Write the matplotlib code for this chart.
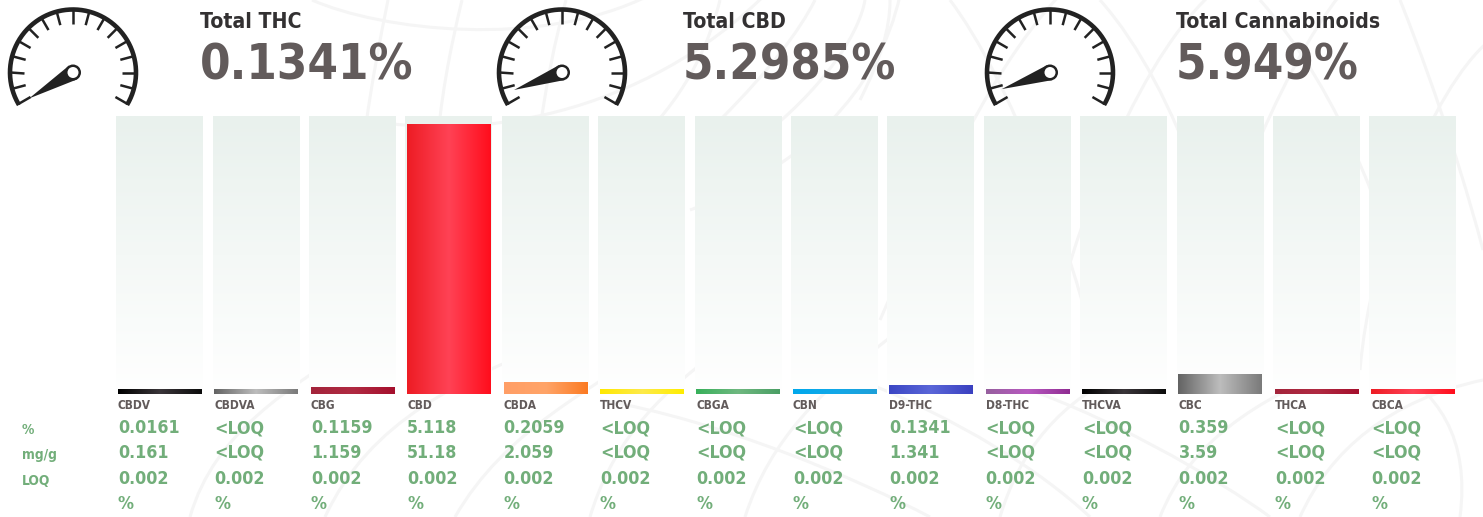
import numpy as np
from matplotlib import pyplot as plt
from matplotlib.colors import LinearSegmentedColormap
from matplotlib.patches import Circle, PathPatch, Polygon
from matplotlib.path import Path

plt.rcParams['font.family'] = 'DejaVu Sans'
plt.rcParams['font.weight'] = 'bold'
plt.rcParams['font.stretch'] = 'condensed'

names = ['CBDV', 'CBDVA', 'CBG', 'CBD', 'CBDA', 'THCV', 'CBGA', 'CBN', 'D9-THC', 'D8-THC',
         'THCVA', 'CBC', 'THCA', 'CBCA']
percent = ['0.0161', '<LOQ', '0.1159', '5.118', '0.2059', '<LOQ', '<LOQ', '<LOQ', '0.1341', '<LOQ',
           '<LOQ', '0.359', '<LOQ', '<LOQ']
mg_per_g = ['0.161', '<LOQ', '1.159', '51.18', '2.059', '<LOQ', '<LOQ', '<LOQ', '1.341', '<LOQ',
            '<LOQ', '3.59', '<LOQ', '<LOQ']
loq = ['0.002'] * 14
unit = ['%'] * 14
# heights as they stand in the picture (small results get a minimum bar)
bar_heights = [0.094, 0.094, 0.132, 5.118, 0.226, 0.094, 0.094, 0.094, 0.17, 0.094,
               0.094, 0.377, 0.094, 0.094]
row_names = ['%', 'mg/g', 'LOQ']

total_names = ['Total THC', 'Total CBD', 'Total Cannabinoids']
total_values = ['0.1341%', '5.2985%', '5.949%']
needle_angles = [30.6, 20, 19]

BLACK = ['#000000', '#3a3539', '#0c0c0c']
GREY = ['#636363', '#bdbdbd', '#7a7a7a']
WINE = ['#a3243b', '#b02a42', '#a50f2d']
RED = ['#ed1c24', '#ff4255', '#ff0d1c']
bar_colors = [BLACK, GREY, WINE, RED, ['#ff9e66', '#ffa468', '#fb7a22'],
              ['#ffe800', '#fdea4a', '#ffed00'], ['#37b05a', '#6fb880', '#4a9e64'],
              ['#00a8ec', '#12a8e8', '#1e9fd8'], ['#3b46c4', '#5a66d8', '#3a40c0'],
              ['#96609e', '#b858c0', '#8f2c92'], BLACK, GREY, WINE, RED]

# faint line drawing behind the chart, control points in pixels
background_curves = [
    [(312, 0), (380, 30), (540, 50), (650, -5)],
    [(368, 120), (470, 140), (640, 120), (770, -10)],
    [(388, 0), (380, 40), (372, 80), (366, 125)],
    [(462, 0), (450, 50), (440, 100), (436, 160)],
    [(540, 130), (545, 90), (555, 40), (566, 0)],
    [(690, 210), (800, 170), (880, 90), (900, -5)],
    [(640, 140), (690, 90), (710, 40), (720, 0)],
    [(860, 100), (880, 60), (890, 30), (890, 0)],
    [(720, 120), (770, 70), (800, 30), (815, 0)],
    [(770, 130), (830, 80), (860, 30), (865, 0)],
    [(190, 517), (215, 430), (290, 390), (360, 340)],
    [(325, 517), (370, 420), (460, 380), (560, 340)],
    [(455, 517), (505, 430), (590, 390), (680, 330)],
    [(590, 517), (610, 450), (650, 400), (720, 350)],
    [(745, 517), (770, 440), (820, 390), (900, 330)],
    [(600, 400), (720, 420), (860, 480), (930, 517)],
    [(860, 380), (960, 420), (1040, 470), (1090, 517)],
    [(1000, 380), (1100, 410), (1220, 480), (1270, 517)],
    [(880, 320), (920, 230), (980, 80), (1060, -5)],
    [(950, 0), (1010, 80), (1070, 240), (1100, 370)],
    [(1040, 390), (1060, 260), (1130, 70), (1210, -5)],
    [(1100, 0), (1180, 90), (1230, 260), (1250, 380)],
    [(1190, 380), (1205, 250), (1280, 70), (1340, -5)],
    [(1260, 0), (1340, 90), (1400, 240), (1420, 370)],
    [(1360, 370), (1370, 250), (1430, 90), (1490, 40)],
    [(1400, 0), (1440, 100), (1470, 200), (1483, 250)],
    [(1460, 517), (1470, 440), (1440, 390), (1380, 360)],
    [(1160, 517), (1190, 440), (1260, 400), (1330, 370)],
    [(1000, 517), (1020, 450), (1060, 400), (1130, 370)],
    [(1300, 517), (1330, 450), (1390, 400), (1483, 380)],
]

TITLE_COLOR = '#333132'
VALUE_COLOR = '#625b5b'
GREEN = '#72ae7a'
GAUGE_COLOR = '#222222'


def draw_gauge(ax, cx, cy, needle_angle):
    """ Arc with 15 degree ticks and a needle
    """
    t = np.radians(np.linspace(-31, 211, 200))
    ax.plot(cx + 63 * np.cos(t), cy - 63 * np.sin(t), color=GAUGE_COLOR, lw=3.3, solid_capstyle='butt')
    for angle in np.arange(-30, 211, 15):
        a = np.radians(angle)
        ax.plot([cx + 49 * np.cos(a), cx + 63 * np.cos(a)], [cy - 49 * np.sin(a), cy - 63 * np.sin(a)],
                color=GAUGE_COLOR, lw=1.8, solid_capstyle='butt')
    a = np.radians(180 + needle_angle)
    tip = (cx + 51 * np.cos(a), cy - 51 * np.sin(a))
    side = a + np.pi / 2
    ax.add_patch(Polygon([tip, (cx + 8 * np.cos(side), cy - 8 * np.sin(side)),
                          (cx - 8 * np.cos(side), cy + 8 * np.sin(side))], color=GAUGE_COLOR, lw=0))
    ax.add_patch(Circle((cx, cy), 8, color=GAUGE_COLOR, lw=0))
    ax.add_patch(Circle((cx, cy), 5.5, color='white', lw=0))


figure = plt.figure(figsize=(14.83, 5.17), dpi=100, facecolor='white')

# Background layer in pixel coordinates
back = figure.add_axes([0, 0, 1, 1])
back.set_xlim(0, 1483)
back.set_ylim(517, 0)
back.axis('off')
for curve in background_curves:
    back.add_patch(PathPatch(Path(curve, [Path.MOVETO, Path.CURVE4, Path.CURVE4, Path.CURVE4]),
                             fill=False, edgecolor='#f5f5f5', lw=2.2))

for cx, cy, angle in zip([73, 562, 1050], [72.5, 72.5, 72.5], needle_angles):
    draw_gauge(back, cx, cy, angle)
for x, name, value in zip([200, 683, 1176], total_names, total_values):
    back.text(x, 28, name, color=TITLE_COLOR, fontsize=15.2, va='baseline')
    back.text(x, 80, value, color=VALUE_COLOR, fontsize=35.2, va='baseline')
for y, name in zip([434, 459, 485], row_names):
    back.text(22, y, name, color=GREEN, fontsize=9.9, va='baseline')

# Bars
axes = figure.add_axes([111.3 / 1483, (517 - 394) / 517, 1349.6 / 1483, 278 / 517])
axes.patch.set_alpha(0)
axes.axis('off')
panel_width = 0.9
bar_width = 0.861
panel_cmap = LinearSegmentedColormap.from_list('panel', ['#e9f1ed', '#f4f8f6', '#ffffff'])
top = 5.27
for i, (height, colors) in enumerate(zip(bar_heights, bar_colors)):
    axes.imshow(np.linspace(0, 1, 256).reshape(-1, 1), cmap=panel_cmap, aspect='auto', origin='upper',
                extent=(i - panel_width / 2, i + panel_width / 2, 0, top), zorder=1)
    cmap = LinearSegmentedColormap.from_list(names[i], colors)
    axes.imshow(np.linspace(0, 1, 256).reshape(1, -1), cmap=cmap, aspect='auto',
                extent=(i - bar_width / 2, i + bar_width / 2, 0, height), zorder=2)
axes.set_xlim(-0.5, 13.5)
axes.set_ylim(0, top)

# Text under the bars, offsets in pixels below the baseline
for i in range(len(names)):
    left = i - bar_width / 2
    axes.annotate(names[i], (left, 0), xytext=(0, -15 * 0.72), textcoords='offset points',
                  color=VALUE_COLOR, fontsize=8.6, va='baseline', annotation_clip=False)
    for offset, column in zip([39, 64, 90, 115], [percent, mg_per_g, loq, unit]):
        axes.annotate(column[i], (left, 0), xytext=(0, -offset * 0.72), textcoords='offset points',
                      color=GREEN, fontsize=12.8, va='baseline', annotation_clip=False)

plt.savefig('out.png', dpi=100)
